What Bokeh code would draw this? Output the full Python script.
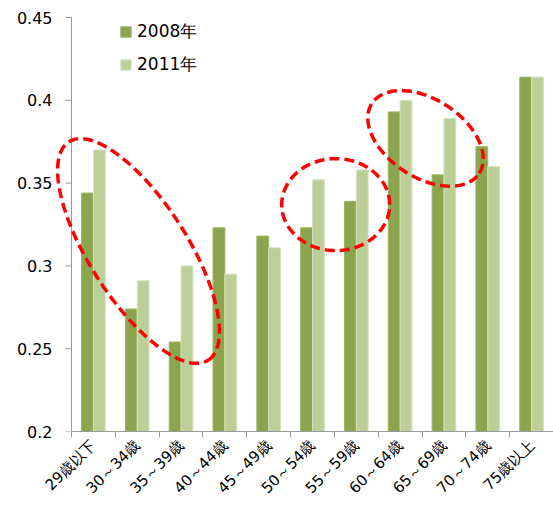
import numpy as np
from bokeh.plotting import figure
from bokeh.models import (ColumnDataSource, FixedTicker, Legend, LegendItem, Range1d,
                          PolyAnnotation, Span)
from bokeh.transform import dodge
from bokeh.embed import file_html
from bokeh.resources import INLINE

categories = ["29歳以下", "30～34歳", "35～39歳", "40～44歳", "45～49歳", "50～54歳",
              "55～59歳", "60～64歳", "65～69歳", "70～74歳", "75歳以上"]
v2008 = [0.344, 0.274, 0.254, 0.323, 0.318, 0.323, 0.339, 0.393, 0.355, 0.372, 0.414]
v2011 = [0.370, 0.291, 0.300, 0.295, 0.311, 0.352, 0.358, 0.400, 0.389, 0.360, 0.414]
series_names = ["2008年", "2011年"]
y_ticks = [0.2, 0.25, 0.3, 0.35, 0.4, 0.45]
y_tick_labels = ["0.2", "0.25", "0.3", "0.35", "0.4", "0.45"]

# highlight ellipses: centre (category-index units, value units)
ell_x = [1.53, 6.03, 8.08]
ell_y = [0.309, 0.337, 0.377]

DARK = "#8ba54f"
LIGHT = "#bccf98"
AXIS = "#9a9a9a"

W, H = 553, 506
FRAME_LEFT, AXIS_X, TOP, BOTTOM = 55, 71, 16, 75
N = len(categories)
Y0, YMAX = 0.2, 0.45
px_x = (W - AXIS_X) / N
px_y = (H - 17 - BOTTOM) / (YMAX - Y0)
X0 = -(AXIS_X - FRAME_LEFT) / px_x
Y1 = YMAX + 1 / px_y

pos = np.arange(N) + 0.5
src = ColumnDataSource(dict(x=pos, y08=v2008, y11=v2011))

p = figure(width=W, height=H, output_backend="svg", toolbar_location=None,
           x_range=Range1d(X0, N), y_range=Range1d(Y0, Y1),
           min_border_left=FRAME_LEFT, min_border_right=0, min_border_top=TOP,
           min_border_bottom=BOTTOM)
p.outline_line_color = None
p.xgrid.visible = False
p.ygrid.visible = False

bw = 0.27
r1 = p.vbar(x=dodge("x", -bw / 2), top="y08", bottom=Y0, width=bw, source=src,
            fill_color=DARK, line_color="#9cb565", line_width=1)
r2 = p.vbar(x=dodge("x", bw / 2), top="y11", bottom=Y0, width=bw, source=src,
            fill_color=LIGHT, line_color="#d6e3c2", line_width=1)

# vertical axis line and its tick marks at x = 0
p.add_layout(Span(location=0, dimension="height", line_color=AXIS, line_width=1))
p.segment(x0=[-6 / px_x] * len(y_ticks), x1=[0] * len(y_ticks), y0=y_ticks, y1=y_ticks,
          line_color=AXIS, line_width=1)

# dashed highlight ellipses (outline sizes in pixels, converted through the scales)
ell_w = [259, 108, 128]
ell_h = [98, 92, 78]
ell_a = [-57.5, 0.0, -33.0]
t = np.linspace(0, 2 * np.pi, 200)
for cx, cy, ew, eh, ea in zip(ell_x, ell_y, ell_w, ell_h, ell_a):
    a = np.radians(ea)
    u = ew / 2 * np.cos(t)
    v = eh / 2 * np.sin(t)
    sx = u * np.cos(a) - v * np.sin(a)
    sy = u * np.sin(a) + v * np.cos(a)
    p.add_layout(PolyAnnotation(xs=list(cx + sx / px_x), ys=list(cy + sy / px_y),
                                fill_color=None, fill_alpha=0,
                                line_color="#ff0000", line_alpha=1.0,
                                line_width=3.5, line_dash="10 5"))

# x axis: boundary ticks, labels at category centres
xa = p.xaxis[0]
xa.bounds = (0, N)
xa.ticker = FixedTicker(ticks=list(pos), minor_ticks=list(range(N + 1)))
xa.major_label_overrides = {float(x): c for x, c in zip(pos, categories)}
xa.major_tick_out = 0
xa.major_tick_in = 0
xa.minor_tick_out = 6
xa.minor_tick_in = 0
xa.minor_tick_line_color = AXIS
xa.axis_line_color = AXIS
xa.major_label_orientation = np.pi / 4
xa.major_label_text_font = "DejaVu Sans"
xa.major_label_text_font_size = "15px"
xa.major_label_text_color = "#000000"
xa.major_label_standoff = 5

# y axis: labels only (line and ticks drawn at x = 0 above)
ya = p.yaxis[0]
ya.ticker = FixedTicker(ticks=y_ticks, minor_ticks=[])
ya.major_label_overrides = {float(tk): s for tk, s in zip(y_ticks, y_tick_labels)}
ya.major_tick_out = 0
ya.major_tick_in = 0
ya.axis_line_color = None
ya.major_tick_line_color = None
ya.major_label_text_font = "DejaVu Sans"
ya.major_label_text_font_size = "16px"
ya.major_label_text_color = "#000000"
ya.major_label_standoff = 3

legend = Legend(items=[LegendItem(label=series_names[0], renderers=[r1]),
                       LegendItem(label=series_names[1], renderers=[r2])],
                location=(AXIS_X - FRAME_LEFT + 48, 355), orientation="vertical")
legend.border_line_color = None
legend.background_fill_alpha = 0
legend.padding = 0
legend.margin = 0
legend.spacing = 10
legend.glyph_width = 13
legend.glyph_height = 13
legend.label_height = 20
legend.label_standoff = 5
legend.label_text_font = "DejaVu Sans"
legend.label_text_font_size = "17px"
legend.label_text_color = "#000000"
p.add_layout(legend)

open("out.html", "w").write(file_html(p, INLINE))
